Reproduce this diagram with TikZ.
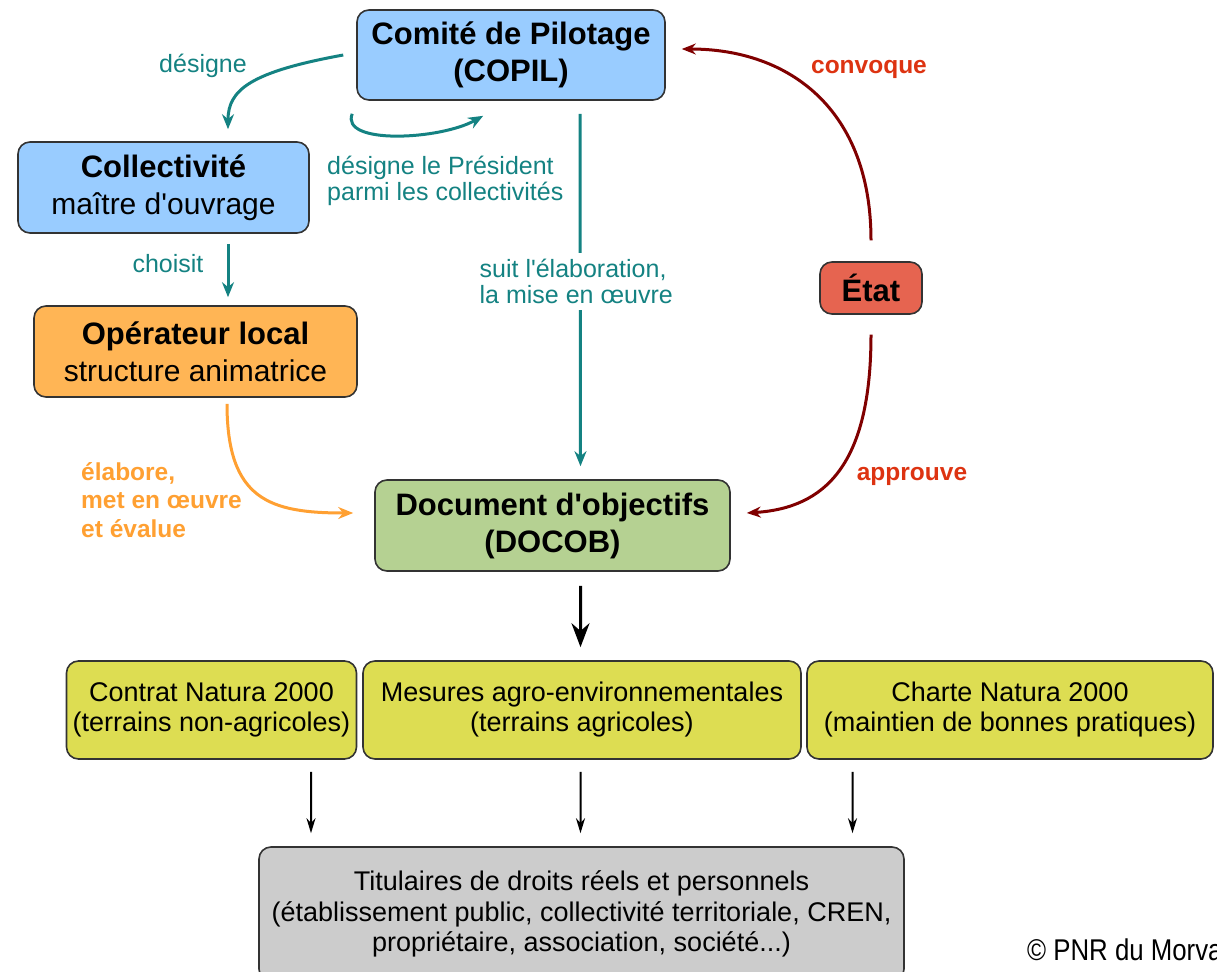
\documentclass[tikz,border=0pt]{standalone}
\usepackage{fontspec}
\setmainfont{Liberation Sans}
\newfontfamily\narrowfont[FakeStretch=0.86]{Liberation Sans}
\usetikzlibrary{arrows.meta}

\definecolor{copilblue}{RGB}{153,204,255}
\definecolor{operorange}{RGB}{255,181,85}
\definecolor{docobgreen}{RGB}{181,209,146}
\definecolor{etatred}{RGB}{230,100,80}
\definecolor{mesureyellow}{RGB}{221,221,82}
\definecolor{titulgray}{RGB}{204,204,204}
\definecolor{tealc}{RGB}{20,130,130}
\definecolor{darkred}{RGB}{128,0,0}
\definecolor{labelred}{RGB}{221,51,17}
\definecolor{labelorange}{RGB}{255,160,50}

\newcommand{\apos}{\textquotesingle}

\begin{document}
\begin{tikzpicture}[x=1bp, y=1bp,
      box/.style = {draw=black!80, line width=1.6bp, rounded corners=12bp,
        align=center, inner sep=0pt},
      titlebox/.style = {box, minimum height=91bp,
        font=\fontsize{31bp}{37bp}\selectfont},
      mesurebox/.style = {box, fill=mesureyellow, minimum height=98bp,
        font=\fontsize{27bp}{30bp}\selectfont},
      tealarrow/.style = {draw=tealc, line width=3bp,
        -{Stealth[length=15bp, width=12bp]}},
      redarrow/.style = {draw=darkred, line width=3bp,
        -{Stealth[length=14bp, width=11bp]}},
      blackarrow/.style = {draw=black, line width=2bp,
        -{Stealth[length=15bp, width=9bp]}},
      tealtext/.style = {text=tealc, inner sep=0pt,
        font=\fontsize{25bp}{26bp}\selectfont},
      boldtext/.style = {inner sep=0pt,
        font=\fontsize{24.5bp}{28.5bp}\selectfont\bfseries}]
  \useasboundingbox (0,0) rectangle (1217,-972);
  \clip (0,0) rectangle (1217,-972);

  % boxes
  \node[titlebox, fill=copilblue, minimum width=308bp, minimum height=90bp,
    font=\fontsize{31bp}{37bp}\selectfont\bfseries] (copil) at (511,-55)
    {Comité de Pilotage\\(COPIL)};
  \node[titlebox, fill=copilblue, minimum width=291bp] (coll) at (163.5,-187.5)
    {{\bfseries Collectivité}\\{\fontsize{30bp}{37bp}\selectfont maître d\apos ouvrage}};
  \node[titlebox, fill=operorange, minimum width=323bp] (oper) at (195.5,-351.5)
    {{\bfseries Opérateur local}\\{\fontsize{30bp}{37bp}\selectfont structure animatrice}};
  \node[titlebox, fill=docobgreen, minimum width=355bp,
    font=\fontsize{31bp}{37bp}\selectfont\bfseries] (docob) at (552.5,-525.5)
    {Document d\apos objectifs\\(DOCOB)};
  \node[titlebox, fill=etatred, minimum width=102bp, minimum height=52bp,
    font=\fontsize{31bp}{37bp}\selectfont\bfseries] (etat) at (871,-288) {État};

  \node[mesurebox, minimum width=290bp] (contrat) at (211.5,-710)
    {Contrat Natura 2000\\(terrains non-agricoles)};
  \node[mesurebox, minimum width=438bp] (mesures) at (582,-710)
    {Mesures agro-environnementales\\(terrains agricoles)};
  \node[mesurebox, minimum width=406bp] (charte) at (1010,-710)
    {Charte Natura 2000\\(maintien de bonnes pratiques)};
  \node[box, fill=titulgray, minimum width=645bp, minimum height=134bp,
    font=\fontsize{27bp}{30.5bp}\selectfont] (titul) at (581.5,-914)
    {Titulaires de droits réels et personnels\\(établissement public, collectivité territoriale, CREN,\\propriétaire, association, société...)};

  % teal connectors
  \draw[tealarrow] ([xshift=-13]copil.west)
    .. controls (250,-72) and (228,-90) .. ([shift={(64.5,12)}]coll.north);
  \draw[tealarrow] ([shift={(-4,-13)}]copil.south west)
    .. controls (340,-145) and (440,-140) .. ([shift={(127,-15)}]copil.south west);
  \draw[tealarrow] ([shift={(64.5,-10)}]coll.south) -- ([shift={(32.5,8)}]oper.north);
  \draw[tealarrow] ([shift={(69,-13)}]copil.south)
    -- node[pos=0.475, xshift=-4bp, tealtext, fill=white, align=left,
      inner ysep=6bp] (suit) {suit l\apos élaboration,\\la mise en \oe uvre}
    ([shift={(28,13)}]docob.north);

  \node[tealtext, anchor=base] (designe) at (203,-72) {désigne};
  \node[tealtext, anchor=base west, align=left] (president) at (327,-200)
    {désigne le Président\\parmi les collectivités};
  \node[tealtext, anchor=base] (choisit) at (168,-272) {choisit};

  % red connectors
  \draw[redarrow] ([yshift=21]etat.north)
    .. controls (871,-110) and (790,-49) .. ([shift={(16,6)}]copil.east);
  \draw[redarrow] ([yshift=-20]etat.south)
    .. controls (871,-465) and (825,-508) .. ([shift={(16,12.5)}]docob.east);
  \node[boldtext, text=labelred, anchor=base] (convoque) at (869,-73) {convoque};
  \node[boldtext, text=labelred, anchor=base] (approuve) at (912,-480) {approuve};

  % orange connector
  \draw[draw=labelorange, line width=3bp, -{Stealth[length=15bp, width=12bp]}]
    ([shift={(31.5,-6)}]oper.south)
    .. controls (227,-500) and (270,-513) .. ([shift={(-21,12.5)}]docob.west);
  \node[boldtext, text=labelorange, anchor=base west, align=left] (elabore)
    at (81,-537) {élabore,\\met en \oe uvre\\et évalue};

  % black connectors
  \draw[draw=black, line width=3bp, -{Stealth[length=24bp, width=18bp]}]
    ([shift={(28,-14)}]docob.south) -- ([shift={(-1.5,13)}]mesures.north);
  \draw[blackarrow] ([shift={(99.5,-12)}]contrat.south) -- ([shift={(-270.5,13)}]titul.north);
  \draw[blackarrow] ([shift={(-1.5,-12)}]mesures.south) -- ([shift={(-1,13)}]titul.north);
  \draw[blackarrow] ([shift={(-157.5,-12)}]charte.south) -- ([shift={(271,13)}]titul.north);

  \node[anchor=base west, inner sep=0pt, font=\fontsize{30bp}{32bp}\narrowfont]
    (credit) at (1027,-960) {© PNR du Morvan};
\end{tikzpicture}
\end{document}
